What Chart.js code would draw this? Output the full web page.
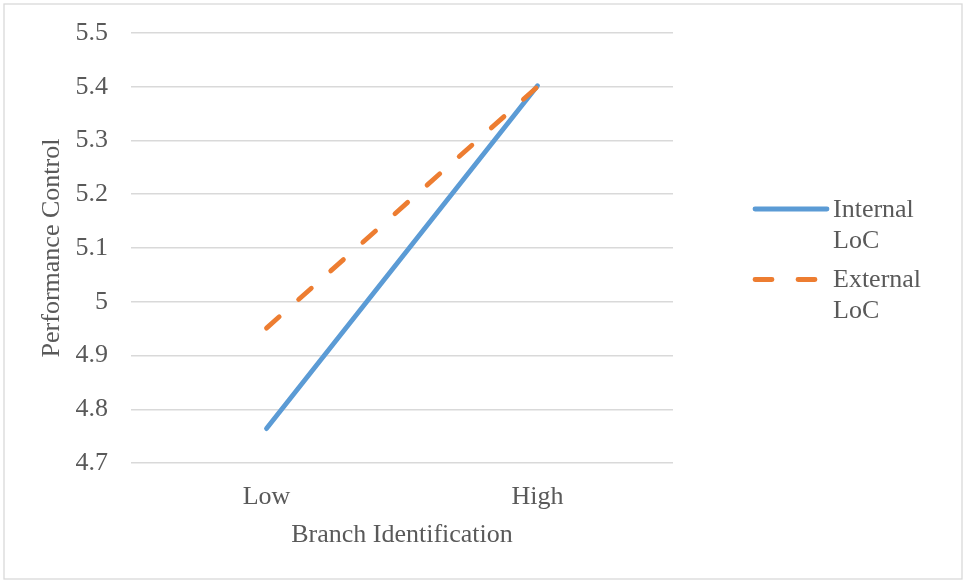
<!DOCTYPE html>
<html>
<head>
<meta charset="utf-8">
<script src="https://cdn.jsdelivr.net/npm/chart.js@4/dist/chart.umd.min.js"></script>
<style>
  html, body { margin: 0; padding: 0; background: #ffffff; }
  #wrap { width: 963px; height: 580px; position: relative; }
</style>
</head>
<body>
<div id="wrap"><canvas id="c" width="963" height="580"></canvas></div>
<script>
const categories = ["Low", "High"];
const seriesNames = ["Internal LoC", "External LoC"];
const internalLoC = [4.764, 5.402];
const externalLoC = [4.951, 5.400];
const yTicks = [4.7, 4.8, 4.9, 5.0, 5.1, 5.2, 5.3, 5.4, 5.5];
const xTitle = "Branch Identification";
const yTitle = "Performance Control";

const FONT = "'Liberation Serif', 'Times New Roman', serif";
const FS = 26;
const TEXT = "#595959";
const GRID = "#D9D9D9";
const BLUE = "#5B9BD5";
const ORANGE = "#ED7D31";

const framePlugin = {
  id: 'frame',
  beforeDraw(chart) {
    const ctx = chart.ctx;
    ctx.save();
    ctx.fillStyle = '#ffffff';
    ctx.fillRect(0, 0, chart.width, chart.height);
    ctx.strokeStyle = GRID;
    ctx.lineWidth = 1.3;
    ctx.strokeRect(4, 4, 958, 575);
    ctx.restore();
  }
};

const legendPlugin = {
  id: 'sideLegend',
  afterDraw(chart) {
    const ctx = chart.ctx;
    const x0 = 755, x1 = 827, tx = 833;
    const rows = [209, 279.5];
    const lineGap = 31;
    ctx.save();
    chart.data.datasets.forEach((ds, i) => {
      const y = rows[i];
      ctx.beginPath();
      ctx.strokeStyle = ds.borderColor;
      ctx.lineWidth = ds.borderWidth;
      ctx.lineCap = 'round';
      ctx.setLineDash(ds.borderDash || []);
      ctx.moveTo(x0, y);
      ctx.lineTo(x1, y);
      ctx.stroke();
      ctx.setLineDash([]);
      ctx.fillStyle = TEXT;
      ctx.font = FS + "px " + FONT;
      ctx.textAlign = 'left';
      ctx.textBaseline = 'middle';
      const words = ds.label.split(' ');
      words.forEach((w, k) => ctx.fillText(w, tx, y + 1 + k * lineGap));
    });
    ctx.restore();
  }
};

new Chart(document.getElementById('c'), {
  type: 'line',
  data: {
    labels: categories,
    datasets: [
      {
        label: seriesNames[0],
        data: internalLoC,
        borderColor: BLUE,
        backgroundColor: BLUE,
        borderWidth: 4.8,
        borderCapStyle: 'round',
        pointRadius: 0,
        pointHoverRadius: 0,
        tension: 0,
        order: 1
      },
      {
        label: seriesNames[1],
        data: externalLoC,
        borderColor: ORANGE,
        backgroundColor: ORANGE,
        borderWidth: 4.8,
        borderCapStyle: 'round',
        borderDash: [17, 26],
        pointRadius: 0,
        pointHoverRadius: 0,
        tension: 0,
        order: 0
      }
    ]
  },
  options: {
    responsive: false,
    animation: false,
    devicePixelRatio: 1,
    layout: { padding: { top: 33, right: 290, bottom: 0, left: 0 } },
    plugins: {
      legend: { display: false },
      tooltip: { enabled: false },
      title: { display: false }
    },
    scales: {
      x: {
        type: 'category',
        offset: true,
        grid: { display: false, drawTicks: false },
        border: { display: false },
        ticks: {
          color: TEXT,
          font: { family: FONT, size: FS },
          padding: 19,
          maxRotation: 0
        },
        title: {
          display: true,
          text: xTitle,
          color: TEXT,
          font: { family: FONT, size: FS },
          padding: { top: 0, bottom: 29.5 }
        },
        afterFit(scale) { scale.height = 117; }
      },
      y: {
        min: 4.7,
        max: 5.5,
        grid: { color: GRID, lineWidth: 1.5, drawTicks: false },
        border: { display: false },
        afterBuildTicks(scale) { scale.ticks = yTicks.map(v => ({ value: v })); },
        ticks: {
          color: TEXT,
          font: { family: FONT, size: FS },
          padding: 23,
          callback: v => String(Number(v.toFixed(1)))
        },
        title: {
          display: true,
          text: yTitle,
          color: TEXT,
          font: { family: FONT, size: FS },
          padding: { top: 37, bottom: 0 }
        },
        afterFit(scale) {
          scale.width = 131;
          scale.paddingTop = 0;
          scale.paddingBottom = 0;
        }
      }
    }
  },
  plugins: [framePlugin, legendPlugin]
});
</script>
</body>
</html>
